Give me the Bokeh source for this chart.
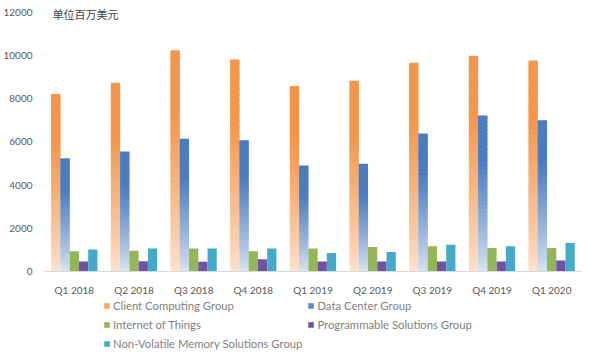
import numpy as np
from bokeh.plotting import figure
from bokeh.layouts import column
from bokeh.models import (ColumnDataSource, FactorRange, Range1d, Legend, LegendItem,
                          Label, NumeralTickFormatter)
from bokeh.transform import dodge
from bokeh.embed import file_html
from bokeh.resources import INLINE

quarters = ["Q1 2018", "Q2 2018", "Q3 2018", "Q4 2018", "Q1 2019",
            "Q2 2019", "Q3 2019", "Q4 2019", "Q1 2020"]
client_computing = [8215, 8726, 10234, 9807, 8580, 8824, 9662, 9975, 9766]
data_center = [5234, 5549, 6138, 6067, 4903, 4983, 6385, 7214, 6995]
internet_of_things = [940, 960, 1060, 940, 1060, 1130, 1165, 1090, 1090]
programmable = [460, 470, 450, 570, 460, 460, 460, 460, 505]
non_volatile = [1020, 1060, 1060, 1060, 860, 905, 1240, 1165, 1320]

series_names = ["Client Computing Group", "Data Center Group", "Internet of Things",
                "Programmable Solutions Group", "Non-Volatile Memory Solutions Group"]
series_colors = ["#f5a769", "#5b8ac6", "#93b657", "#7252a0", "#43abc9"]
y_ticks = [0, 2000, 4000, 6000, 8000, 10000, 12000]
unit_label = "单位百万美元"

W = 0.155
offsets = [-2 * W, -W, 0.0, W, 2 * W]
LEFT = 36

xr = FactorRange(*quarters, range_padding=0)
p = figure(x_range=xr, y_range=Range1d(0, 12166),
           width=584, height=298, output_backend="svg", toolbar_location=None,
           title=None, min_border_left=LEFT, min_border_right=3, min_border_top=8,
           min_border_bottom=26)
p.outline_line_color = None
p.background_fill_color = "white"
p.border_fill_color = "white"
p.xgrid.grid_line_color = None
p.ygrid.grid_line_color = None


def hex_to_rgb(h):
    h = h.lstrip("#")
    return np.array([int(h[i:i + 2], 16) for i in (0, 2, 4)], dtype=float)


def lerp_color(c0, c1, f):
    c = hex_to_rgb(c0) * (1 - f) + hex_to_rgb(c1) * f
    return "#%02x%02x%02x" % tuple(int(round(v)) for v in c)


N = 40


def gradient_bars(vals, off, light, dark):
    xs, bottoms, tops, colors = [], [], [], []
    for q, v in zip(quarters, vals):
        for i in range(N):
            t = (i + 0.5) / N
            f = min(1.0, t / 0.72) ** 0.85
            xs.append(q)
            bottoms.append(v * i / N)
            tops.append(min(v, v * (i + 1.7) / N))
            colors.append(lerp_color(light, dark, f))
    src = ColumnDataSource(dict(x=xs, bottom=bottoms, top=tops, color=colors))
    p.vbar(x=dodge("x", off, range=xr), bottom="bottom", top="top", width=W,
           source=src, fill_color="color", line_color=None)


def solid_bars(vals, off, color):
    src = ColumnDataSource(dict(x=quarters, top=vals))
    p.vbar(x=dodge("x", off, range=xr), top="top", bottom=0, width=W,
           source=src, fill_color=color, line_color=None)


gradient_bars(client_computing, offsets[0], "#fde3cf", "#f3964a")
gradient_bars(data_center, offsets[1], "#dbe6f3", "#4a7cbf")
solid_bars(internet_of_things, offsets[2], series_colors[2])
solid_bars(programmable, offsets[3], series_colors[3])
solid_bars(non_volatile, offsets[4], series_colors[4])

# axes
p.xaxis.axis_line_color = "#d9d9d9"
p.xaxis.major_tick_line_color = None
p.xaxis.minor_tick_line_color = None
p.xaxis.major_label_text_color = "#595959"
p.xaxis.major_label_text_font = "Lato"
p.xaxis.major_label_text_font_size = "10px"
p.xaxis.major_label_standoff = 6

p.yaxis.axis_line_color = None
p.yaxis.major_tick_line_color = None
p.yaxis.minor_tick_line_color = None
p.yaxis.ticker = y_ticks
p.yaxis.major_label_text_color = "#595959"
p.yaxis.major_label_text_font = "Lato"
p.yaxis.major_label_text_font_size = "10px"
p.yaxis.major_label_standoff = 6
p.yaxis.formatter = NumeralTickFormatter(format="0")

# unit label
p.add_layout(Label(x=8, x_units="screen", y=11890, y_units="data", text=unit_label,
                   text_font="Noto Sans CJK SC", text_font_size="11px",
                   text_color="#404040", text_baseline="middle"))

# legend panel below the chart (hidden proxy renderers carry the swatch colours)
pl = figure(width=584, height=52, output_backend="svg", toolbar_location=None,
            title=None, x_range=xr, y_range=Range1d(0, 1),
            min_border_left=LEFT, min_border_right=3, min_border_top=0,
            min_border_bottom=0, x_axis_type=None, y_axis_type=None)
pl.outline_line_color = None
pl.xgrid.grid_line_color = None
pl.ygrid.grid_line_color = None
series_values = [client_computing, data_center, internet_of_things, programmable,
                 non_volatile]
proxies = []
for vals, col in zip(series_values, series_colors):
    src = ColumnDataSource(dict(x=quarters, top=vals))
    proxies.append(pl.vbar(x="x", top="top", bottom=0, width=0.1, source=src,
                           fill_color=col, line_color=None, visible=False))

order = [0, 2, 4, 1, 3]  # column-major fill -> reads row by row
items = [LegendItem(label=series_names[k], renderers=[proxies[k]], index=0) for k in order]

legend = Legend(items=items, ncols=2, location=(95 - LEFT, 0), padding=0, margin=0,
                spacing=5, label_height=14, glyph_height=7, glyph_width=7,
                label_standoff=3, label_text_font="Lato", label_text_font_size="11.3px",
                label_text_color="#7f7f7f", background_fill_alpha=0,
                border_line_color=None)
pl.add_layout(legend, "center")

layout = column(p, pl, spacing=0)
open("out.html", "w").write(file_html(layout, INLINE))
